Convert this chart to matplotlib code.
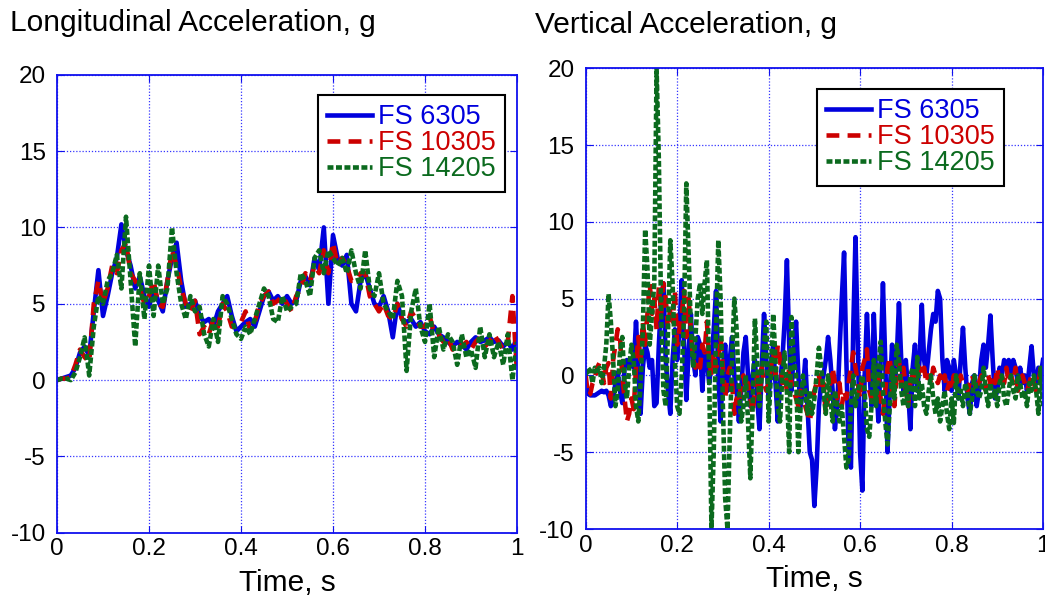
import numpy as np
import matplotlib
matplotlib.use("Agg")
import matplotlib.pyplot as plt

plt.rcParams['font.family'] = ['Liberation Sans', 'DejaVu Sans']
plt.rcParams['axes.unicode_minus'] = False

series_names = ['FS 6305', 'FS 10305', 'FS 14205']
series_colors = ['#0000dd', '#cc0000', '#0b6a1e']

# longitudinal acceleration, g (dt = 0.01 s)
long_6305 = [0.0, 0.1, 0.2, 0.3, 0.8, 1.8, 2.2, 1.6, 4.5, 7.2,
             4.2, 5.5, 7.0, 8.0, 10.2, 8.5, 7.5, 6.0, 6.8, 5.5,
             4.8, 6.0, 5.2, 4.5, 6.5, 8.0, 9.0, 6.5, 4.8, 5.0,
             5.2, 4.2, 3.8, 4.0, 3.5, 4.5, 5.0, 5.5, 4.2, 3.2,
             3.5, 3.8, 4.0, 3.5, 4.5, 5.5, 5.8, 5.2, 5.5, 5.0,
             5.5, 5.0, 5.2, 6.5, 6.8, 6.2, 8.0, 7.2, 10.0, 5.0,
             9.5, 8.0, 7.5, 8.2, 5.0, 4.5, 6.5, 7.0, 6.0, 5.0,
             4.8, 5.5, 4.5, 2.8, 5.0, 4.0, 3.8, 4.0, 3.5, 3.8,
             3.2, 3.0, 3.5, 3.0, 2.8, 2.5, 2.2, 2.5, 2.3, 2.0,
             2.5, 2.8, 2.5, 2.6, 2.8, 2.5, 2.6, 2.2, 2.5, 2.0,
             2.8]
long_10305 = [0.0, 0.1, 0.1, 0.2, 1.0, 2.0, 1.5, 1.2, 5.0, 6.5,
              5.0, 6.0, 7.5, 7.0, 8.5, 9.0, 7.0, 6.5, 6.0, 5.0,
              5.5, 6.5, 5.0, 4.8, 6.5, 8.5, 7.5, 6.0, 5.0, 4.5,
              5.2, 3.0, 3.5, 3.0, 4.0, 3.5, 5.0, 4.5, 3.5, 3.5,
              3.8, 4.5, 3.2, 3.8, 5.0, 5.5, 5.8, 5.0, 5.2, 5.5,
              5.0, 4.5, 5.5, 6.0, 7.0, 6.5, 7.5, 7.0, 8.5, 7.0,
              9.0, 7.5, 8.0, 7.5, 6.5, 6.5, 7.0, 7.0, 5.5, 5.0,
              4.5, 5.0, 4.2, 4.0, 5.0, 4.0, 3.5, 4.5, 4.0, 3.5,
              3.5, 4.2, 3.0, 3.0, 2.5, 2.8, 2.0, 2.5, 2.2, 2.5,
              2.0, 2.5, 2.8, 2.2, 2.5, 3.0, 2.5, 2.0, 2.5, 5.5,
              0.5]
long_14205 = [0.0, 0.1, 0.1, 0.0, 0.5, 1.5, 2.8, 0.3, 3.5, 5.5,
              5.0, 6.5, 7.0, 8.2, 6.0, 10.7, 6.5, 2.2, 7.0, 4.0,
              7.5, 4.2, 7.5, 5.0, 6.0, 10.0, 7.0, 5.0, 4.0, 5.5,
              4.5, 4.8, 3.0, 2.2, 4.0, 2.5, 5.5, 5.0, 4.0, 3.0,
              2.7, 3.5, 3.0, 4.0, 5.0, 6.0, 5.5, 4.0, 3.8, 5.5,
              4.5, 4.8, 5.0, 7.0, 6.5, 5.5, 8.0, 8.5, 7.0, 8.5,
              8.0, 7.5, 8.0, 7.0, 8.5, 7.0, 6.0, 8.5, 6.0, 5.5,
              7.0, 5.0, 4.5, 4.0, 6.5, 5.5, 0.6, 4.5, 6.0, 3.5,
              2.5, 5.0, 1.5, 3.5, 2.0, 3.0, 2.5, 1.0, 3.0, 1.5,
              2.0, 0.8, 3.5, 1.5, 3.0, 1.5, 2.5, 1.0, 3.0, 0.0,
              2.5]

# vertical acceleration, g (dt = 0.005 s)
vert_6305 = [-0.5, -1.2, -1.3, -1.3, -1.3, -1.2, -1.1, -1.0, -1.1, -1.0, -1.3, -2.0, -1.5, -0.5, 0.2, -1.0, -1.8, 0.5, 1.0, 0.5,
             1.0, 0.5, 3.5, 0.5, -2.5, 0.5, 2.0, 1.5, 0.5, 1.0, -2.0, -1.8, 2.0, 5.0, 6.0, 1.0, -1.0, -2.5, 1.0, 3.0,
             1.0, 3.0, 6.2, 2.0, -1.6, 1.5, 4.0, 1.0, 0.0, 2.5, 2.0, -1.0, 1.5, 1.0, -0.5, 1.0, 3.0, 5.5, 0.0, -3.0,
             0.5, 2.0, -1.0, 1.0, 2.5, 0.0, -1.0, -3.0, -1.0, 1.5, 2.5, 0.0, -2.0, 0.0, 1.0, -1.5, -3.5, 0.5, 4.0, 1.0,
             -1.5, 0.5, 2.0, -0.5, -3.0, -0.5, 1.0, 3.5, 7.5, 2.0, -1.0, 1.5, 3.5, 0.0, -2.0, -1.0, 1.0, -2.0, -5.0, -5.5,
             -8.5, -6.0, -2.0, -0.5, 0.0, 1.0, 2.5, 1.0, -1.0, -3.5, -2.0, 1.5, 5.0, 8.0, 1.0, -5.0, -6.0, 3.0, 9.0, 2.0,
             -5.0, -7.5, 0.0, 4.0, 0.5, -2.0, 4.0, 0.0, -3.0, 1.0, 6.0, 1.0, -5.0, -1.0, 2.0, -1.0, 1.0, 4.7, 1.0, -1.0,
             1.0, -1.0, -3.5, 0.5, 2.0, -1.0, 1.0, 4.6, 1.0, 0.0, 1.5, 3.0, 4.0, 3.5, 5.5, 5.0, 1.0, -1.0, 1.0, 0.5,
             -1.0, 1.0, 0.0, -1.5, 1.0, 3.1, 0.5, -1.5, -2.5, -0.5, 0.0, -2.0, -1.0, 1.0, 2.0, 0.5, 2.0, 3.9, 1.0, -1.5,
             -1.0, 0.5, 0.0, 1.0, 0.5, 1.0, 0.0, 1.0, 0.5, -0.5, 0.5, -0.5, 0.0, -1.0, 0.5, 1.9, 0.0, -0.5, 0.5, 0.0,
             1.0]
vert_10305 = [0.0, -1.3, -1.2, -0.5, -0.2, 0.5, 0.8, 0.3, -0.5, 0.5, 0.8, -1.5, 1.0, 2.0, 3.0, 2.5, 0.0, -1.5, -3.0, -2.5,
              -1.5, -2.2, 0.5, 2.5, 1.0, 3.5, 2.0, 4.0, 6.0, 4.0, 5.0, 3.0, 5.8, 4.0, 6.0, 5.0, 3.0, 4.5, 3.5, 5.5,
              2.0, 3.0, 4.0, 5.5, 2.5, 5.0, 3.0, 1.0, 0.5, 1.0, 0.5, 2.0, 1.5, 3.5, 1.0, 0.0, 1.5, 0.5, 1.0, 2.5,
              0.5, -1.5, 0.0, 0.5, -0.5, -2.5, -1.5, -2.0, -0.5, 0.0, -1.0, -0.5, -1.5, -2.5, -1.0, 0.0, -1.5, 0.5, -0.5, -1.0,
              -0.5, 0.5, 1.5, 0.0, 2.0, 1.0, -0.5, 0.0, -1.0, 0.5, -0.5, -1.0, -1.5, -2.0, -1.0, -1.5, -2.0, -2.5, -3.0, -2.0,
              -1.0, -0.5, 0.0, -1.0, -0.5, -2.5, -1.5, -0.5, 0.5, -0.5, -1.5, -0.5, -2.0, -1.0, -1.5, -0.5, 0.5, 1.5, 0.5, -0.5,
              -1.5, 0.5, 1.0, 1.7, -1.0, -1.5, -2.0, -1.0, 0.0, -1.5, -2.5, -1.0, 0.5, 1.2, -1.0, -2.0, 0.0, 1.0, -0.5, 0.5,
              -1.0, -2.0, -0.5, 0.0, 0.5, -0.5, 0.5, 0.0, 0.5, -0.5, 0.0, -0.5, 0.5, 0.0, -0.5, 0.0, -0.5, 0.0, -1.0, -0.5,
              -1.0, 0.0, -0.5, -0.5, 0.0, -0.5, -0.5, -1.0, -0.5, 0.0, -0.5, -1.0, -0.5, 0.0, -0.5, -1.0, 0.0, -0.5, 0.0, -0.5,
              0.5, -0.5, 0.0, -0.5, 0.5, -0.5, 0.0, -0.5, 0.5, -1.0, -0.5, 0.0, -0.5, -1.0, -0.5, 0.0, -0.5, -1.0, -0.5, 0.5,
              1.0]
vert_14205 = [0.0, 0.5, 0.3, -0.5, 0.5, 0.3, 0.5, -0.5, 0.5, 2.0, 5.3, 3.5, 1.0, -2.0, -1.0, 1.5, 2.5, -0.5, -1.5, 0.5,
              2.0, 1.0, -2.0, -3.0, -0.5, 3.0, 9.5, 7.0, 2.0, 4.0, 6.0, 20.0, 14.0, 4.0, -1.0, -2.0, 3.0, 8.8, 6.0, 1.0,
              -2.0, -2.5, 0.0, 4.0, 12.5, 8.0, 3.0, 0.5, 2.5, 5.0, 6.0, 4.0, 6.0, 7.5, 0.0, -10.0, -5.0, 3.0, 8.8, 5.0,
              -2.0, -8.0, -10.0, -4.0, 1.0, 5.0, 3.0, -1.0, -3.0, -2.0, 0.0, -3.0, -6.7, -2.0, 3.7, 1.0, -2.0, 0.0, 2.0, 3.5,
              -3.0, 0.0, 4.0, 1.0, -2.0, -3.0, 0.0, 1.5, -1.0, -5.0, 3.8, 1.0, 0.0, -5.0, -2.0, 0.0, -1.0, -2.5, -1.0, -2.5,
              -1.5, 0.0, 1.8, 0.5, -1.0, -2.5, 0.0, -1.5, -3.0, -1.0, -2.0, -3.0, -2.0, -4.0, -6.0, -5.5, -2.0, 0.0, -2.0, -1.0,
              -0.5, 0.0, -1.0, -3.5, -4.0, -2.0, 1.0, -2.0, 0.5, 2.2, -1.0, -3.0, -4.5, -2.0, 0.5, -1.5, 2.0, 1.0, -1.0, -2.0,
              -0.5, -2.0, 0.0, 0.5, -2.0, 1.2, -1.5, -0.5, -2.0, -2.5, -1.0, 0.0, -1.5, -2.5, -1.5, -3.0, -2.0, -1.0, -2.5, -3.5,
              -1.5, -3.1, 0.0, -1.5, -1.0, -2.0, -0.5, -1.0, -2.5, -1.5, 0.0, -1.0, -1.5, -1.0, 0.5, -1.0, -2.0, -0.5, -1.5, -1.0,
              -2.0, -0.5, 0.0, -1.5, -2.0, -1.0, 0.0, -1.0, -1.5, 0.0, -0.5, -1.5, -1.0, -2.0, -0.5, -1.0, 0.0, -1.0, -2.5, 0.5,
              -2.0]

t_long = np.linspace(0, 1, len(long_6305))
t_vert = np.linspace(0, 1, len(vert_6305))

styles = ['-', (0, (2.8, 1.8)), (0, (1.3, 0.55))]
grid_blue = '#3535ff'
axis_blue = '#1010ee'


def draw_panel(ax, t, data, title, title_xy, legend_xy, fig):
    lines = []
    for vals, name, col, ls in zip(data, series_names, series_colors, styles):
        ln, = ax.plot(t, vals, color=col, linestyle=ls, linewidth=3.3, label=name)
        lines.append(ln)
    ax.set_xlim(0, 1)
    ax.set_ylim(-10, 20)
    ax.set_xticks([0, 0.2, 0.4, 0.6, 0.8, 1])
    ax.set_xticklabels(['0', '0.2', '0.4', '0.6', '0.8', '1'])
    ax.set_yticks([-10, -5, 0, 5, 10, 15, 20])
    ax.grid(True, color=grid_blue, linestyle=(0, (1, 1.5)), linewidth=0.9)
    for s in ax.spines.values():
        s.set_color(axis_blue)
        s.set_linewidth(1.3)
    ax.tick_params(direction='in', length=5, color=axis_blue, labelsize=17.5,
                   top=True, right=True)
    ax.tick_params(axis='y', pad=8)
    ax.tick_params(axis='x', pad=4)
    ax.set_xlabel('Time, s', fontsize=21.5, labelpad=6)
    fig.text(title_xy[0] / 1045, 1 - title_xy[1] / 601, title, fontsize=21.5, va='baseline')
    leg = ax.legend(loc='upper left', bbox_to_anchor=(legend_xy[0] / 1045, 1 - legend_xy[1] / 601),
                    bbox_transform=fig.transFigure, borderaxespad=0, fontsize=19.5,
                    handlelength=1.65, handletextpad=0.2, labelspacing=0.0, borderpad=0.35,
                    fancybox=False, framealpha=1, edgecolor='black')
    leg.get_frame().set_linewidth(1.5)
    for txt, ln in zip(leg.get_texts(), lines):
        txt.set_color(ln.get_color())


fig = plt.figure(figsize=(10.45, 6.01), dpi=100)
ax1 = fig.add_axes([57 / 1045, 1 - 532.8 / 601, 460 / 1045, (532.8 - 74.7) / 601])
ax2 = fig.add_axes([585.7 / 1045, 1 - 529 / 601, (1043 - 585.7) / 1045, (529 - 68.2) / 601])

draw_panel(ax1, t_long, [long_6305, long_10305, long_14205],
           'Longitudinal Acceleration, g', (10, 31), (318, 95), fig)
draw_panel(ax2, t_vert, [vert_6305, vert_10305, vert_14205],
           'Vertical Acceleration, g', (535, 33), (817, 89), fig)

fig.savefig('out.png', dpi=100)
